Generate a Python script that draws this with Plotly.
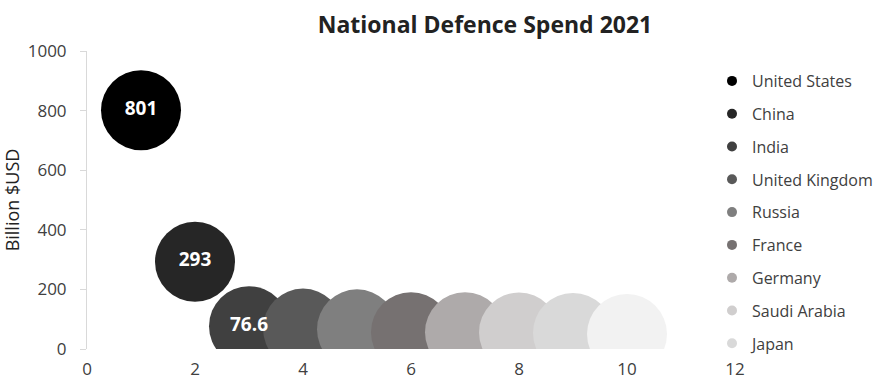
import plotly.graph_objects as go

countries = ["United States", "China", "India", "United Kingdom", "Russia",
             "France", "Germany", "Saudi Arabia", "Japan", "South Korea"]
rank = [1, 2, 3, 4, 5, 6, 7, 8, 9, 10]
spend = [801, 293, 76.6, 68.4, 65.9, 56.6, 56.0, 55.6, 54.1, 50.2]
labels = ["801", "293", "76.6", "", "", "", "", "", "", ""]
colors = ["#000000", "#262626", "#404040", "#595959", "#7f7f7f",
          "#767171", "#aeaaaa", "#d0cece", "#d9d9d9", "#f2f2f2"]
legend_shown = [True, True, True, True, True, True, True, True, True, False]

FONT = "Open Sans"
fig = go.Figure()
for i in range(len(countries)):
    fig.add_trace(go.Scatter(
        x=[rank[i]], y=[spend[i]], mode="markers",
        marker=dict(size=80, color=colors[i], line=dict(width=0), opacity=1),
        name=countries[i], showlegend=False, cliponaxis=True,
        hoverinfo="name+y",
    ))
# data labels drawn above all bubbles
fig.add_trace(go.Scatter(
    x=rank, y=spend, mode="text", text=labels, textposition="middle center",
    textfont=dict(family=FONT, size=19, color="white", weight="bold"),
    showlegend=False, hoverinfo="skip", cliponaxis=True,
))
for i in range(len(countries)):
    if legend_shown[i]:
        fig.add_trace(go.Scatter(
            x=[None], y=[None], mode="markers",
            marker=dict(size=10, color=colors[i]),
            name=countries[i], showlegend=True, legendgroup=countries[i],
        ))

fig.update_layout(
    width=884, height=383,
    margin=dict(l=87, r=149, t=51, b=34, autoexpand=False),
    paper_bgcolor="white", plot_bgcolor="white",
    font=dict(family=FONT, color="#404040", size=16),
    title=dict(text="<b>National Defence Spend 2021</b>", x=485/884, xanchor="center",
               y=1 - 25/383, yanchor="middle",
               font=dict(family=FONT, size=23, color="#222222")),
    legend=dict(x=(712 - 87) / 648, xanchor="left", y=1 - (64 - 51) / 298, yanchor="top",
                font=dict(family=FONT, size=16, color="#404040"),
                tracegroupgap=9, itemsizing="trace", itemwidth=30,
                bgcolor="rgba(0,0,0,0)", maxheight=1.0),
    xaxis=dict(range=[0, 12], dtick=2, showgrid=False, zeroline=False,
               showline=False, ticks="outside", ticklen=5,
               tickcolor="rgba(0,0,0,0)",
               tickfont=dict(size=17, color="#404040")),
    yaxis=dict(range=[0, 1000], dtick=200, showgrid=False, zeroline=False,
               showline=True, linecolor="#d9d9d9", linewidth=1,
               ticks="outside", ticklen=6, tickcolor="#d9d9d9",
               ticklabelstandoff=10,
               tickfont=dict(size=17, color="#404040"),
               title=dict(text="Billion $USD", font=dict(size=18, color="#222222"), standoff=10)),
)
fig.write_html("out.html")
